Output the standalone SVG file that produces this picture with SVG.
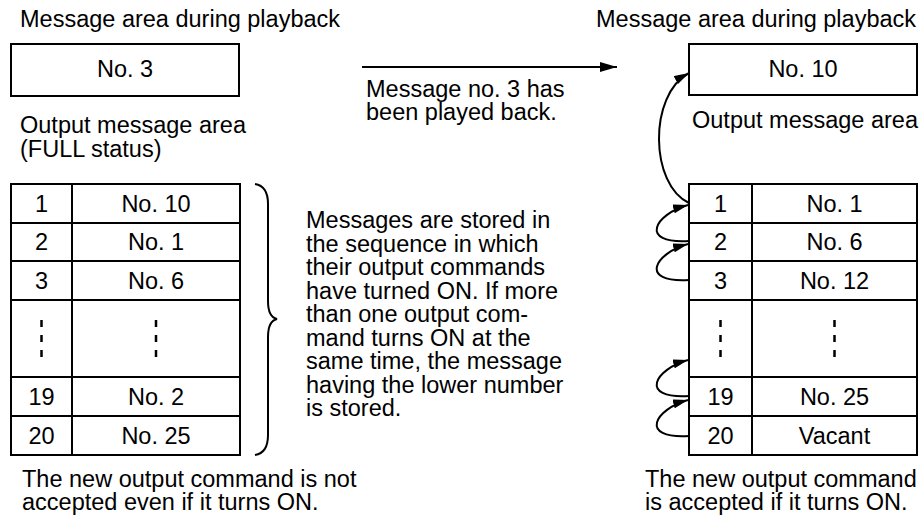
<svg xmlns="http://www.w3.org/2000/svg" width="924" height="521" viewBox="0 0 924 521">
<style>
text{font-family:"Liberation Sans",Arial,Helvetica,sans-serif;font-size:23.5px;fill:#000}
.c{text-anchor:middle}
.box{fill:#fff;stroke:#000;stroke-width:2}
.ln{fill:none;stroke:#000;stroke-width:2}
.dot{fill:none;stroke:#000;stroke-width:2.5;stroke-dasharray:7 8}
</style>
<defs>
<marker id="ah" markerUnits="userSpaceOnUse" markerWidth="17" markerHeight="10" refX="17" refY="5" orient="auto">
<path d="M0,0 L17,5 L0,10 z" fill="#000"/>
</marker>
<marker id="ahs" markerUnits="userSpaceOnUse" markerWidth="15" markerHeight="9" refX="15" refY="4.5" orient="auto">
<path d="M0,0 L15,4.5 L0,9 z" fill="#000"/>
</marker>
</defs>
<rect width="924" height="521" fill="#fff"/>

<!-- Left side -->
<g id="left-labels">
<text x="20" y="27">Message area during playback</text>
<text x="20" y="133">Output message area</text>
<text x="20" y="157">(FULL status)</text>
</g>
<g id="left-playback">
<rect class="box" x="11" y="44" width="228" height="52"/>
<text class="c" x="125" y="77">No. 3</text>
</g>
<g id="left-table">
<rect class="box" x="11" y="184" width="229" height="271"/>
<line class="ln" x1="72" y1="184" x2="72" y2="455"/>
<line class="ln" x1="11" y1="223" x2="240" y2="223"/>
<line class="ln" x1="11" y1="261" x2="240" y2="261"/>
<line class="ln" x1="11" y1="300" x2="240" y2="300"/>
<line class="ln" x1="11" y1="377" x2="240" y2="377"/>
<line class="ln" x1="11" y1="416" x2="240" y2="416"/>
<g id="left-row-1"><text class="c" x="41.5" y="212">1</text><text class="c" x="156" y="212">No. 10</text></g>
<g id="left-row-2"><text class="c" x="41.5" y="250">2</text><text class="c" x="156" y="250">No. 1</text></g>
<g id="left-row-3"><text class="c" x="41.5" y="289">3</text><text class="c" x="156" y="289">No. 6</text></g>
<g id="left-row-dots"><line class="dot" x1="41.5" y1="320" x2="41.5" y2="357"/><line class="dot" x1="156" y1="320" x2="156" y2="357"/></g>
<g id="left-row-19"><text class="c" x="41.5" y="405">19</text><text class="c" x="156" y="405">No. 2</text></g>
<g id="left-row-20"><text class="c" x="41.5" y="444">20</text><text class="c" x="156" y="444">No. 25</text></g>
</g>
<g id="left-brace">
<path class="ln" d="M255,184 Q268,186 268,204 L268,301 Q268,317 277,319 Q268,321 268,337 L268,435 Q268,453 255,455"/>
</g>
<g id="left-note">
<text x="306" y="228">Messages are stored in</text>
<text x="306" y="251.5">the sequence in which</text>
<text x="306" y="275">their output commands</text>
<text x="306" y="298.5">have turned ON. If more</text>
<text x="306" y="322">than one output com-</text>
<text x="306" y="345.5">mand turns ON at the</text>
<text x="306" y="369">same time, the message</text>
<text x="306" y="392.5">having the lower number</text>
<text x="306" y="416">is stored.</text>
</g>
<g id="left-bottom">
<text x="22" y="486.5">The new output command is not</text>
<text x="22" y="510">accepted even if it turns ON.</text>
</g>

<!-- Middle -->
<g id="transition-label">
<text x="366" y="96.5">Message no. 3 has</text>
<text x="366" y="120">been played back.</text>
</g>

<!-- Right side -->
<g id="right-labels">
<text x="596" y="27">Message area during playback</text>
<text x="692" y="128">Output message area</text>
</g>
<g id="right-playback">
<rect class="box" x="689" y="44" width="228" height="51"/>
<text class="c" x="803" y="77">No. 10</text>
</g>
<g id="right-table">
<rect class="box" x="689" y="184" width="228" height="271"/>
<line class="ln" x1="752" y1="184" x2="752" y2="455"/>
<line class="ln" x1="689" y1="223" x2="917" y2="223"/>
<line class="ln" x1="689" y1="261" x2="917" y2="261"/>
<line class="ln" x1="689" y1="300" x2="917" y2="300"/>
<line class="ln" x1="689" y1="377" x2="917" y2="377"/>
<line class="ln" x1="689" y1="416" x2="917" y2="416"/>
<g id="right-row-1"><text class="c" x="720.5" y="212">1</text><text class="c" x="834.5" y="212">No. 1</text></g>
<g id="right-row-2"><text class="c" x="720.5" y="250">2</text><text class="c" x="834.5" y="250">No. 6</text></g>
<g id="right-row-3"><text class="c" x="720.5" y="289">3</text><text class="c" x="834.5" y="289">No. 12</text></g>
<g id="right-row-dots"><line class="dot" x1="720.5" y1="320" x2="720.5" y2="357"/><line class="dot" x1="834.5" y1="320" x2="834.5" y2="357"/></g>
<g id="right-row-19"><text class="c" x="720.5" y="405">19</text><text class="c" x="834.5" y="405">No. 25</text></g>
<g id="right-row-20"><text class="c" x="720.5" y="444">20</text><text class="c" x="834.5" y="444">Vacant</text></g>
</g>
<g id="right-bottom">
<text x="645" y="486.5">The new output command</text>
<text x="645" y="510">is accepted if it turns ON.</text>
</g>

<!-- Connectors -->
<g id="connectors">
<path class="ln" d="M362,67 L617,67" marker-end="url(#ah)"/>
<path class="ln" d="M689,203 C650,185 648,95 689,73" marker-end="url(#ahs)"/>
<path class="ln" d="M689,241 c-51,3 -34,-27 -1,-36" marker-end="url(#ahs)"/>
<path class="ln" d="M689,280 c-51,3 -34,-27 -1,-36" marker-end="url(#ahs)"/>
<path class="ln" d="M689,396 c-51,3 -34,-27 -1,-36" marker-end="url(#ahs)"/>
<path class="ln" d="M689,436 c-51,3 -34,-27 -1,-36" marker-end="url(#ahs)"/>
</g>
</svg>
